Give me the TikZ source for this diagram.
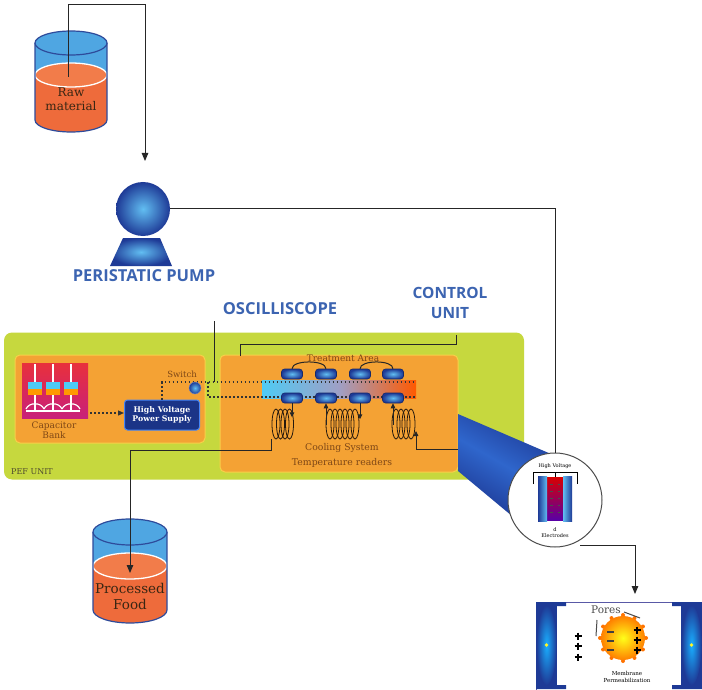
\documentclass[tikz,border=0pt]{standalone}
\usepackage{fontspec}
\setmainfont{DejaVu Serif}
\newfontfamily\headfont{Open Sans}
\usetikzlibrary{arrows.meta,calc}

\definecolor{tankblue}{HTML}{4FA6E2}
\definecolor{tankedge}{HTML}{2E4B9B}
\definecolor{liquid}{HTML}{EE6B3B}
\definecolor{liquidtop}{HTML}{F27C4A}
\definecolor{pefgreen}{HTML}{C6D83E}
\definecolor{boxorange}{HTML}{F4A234}
\definecolor{boxrim}{HTML}{F8D048}
\definecolor{labelblue}{HTML}{3C64B1}
\definecolor{deepblue}{HTML}{1E3A96}
\definecolor{lightblue}{HTML}{62BEF2}
\definecolor{conemid}{HTML}{2F66CC}
\definecolor{textbrown}{HTML}{7E4716}
\definecolor{capred}{HTML}{E8303C}
\definecolor{capmag}{HTML}{C8207A}

% tank: x, top y, liquid surface y, bottom y, x radius, y radius
\newcommand\drawtank[6]{%
  \fill[tankblue] (#1-#5,#2) -- (#1-#5,#3) -- (#1+#5,#3) -- (#1+#5,#2) -- cycle;
  \fill[liquid] (#1-#5,#3) -- (#1-#5,#4)
     arc[start angle=180,end angle=360,x radius=#5pt,y radius=#6pt] -- (#1+#5,#3) -- cycle;
  \filldraw[fill=liquidtop,draw=white,line width=1.3pt] (#1,#3) ellipse[x radius=#5pt,y radius=#6pt];
  \draw[tankedge,line width=1.2pt] (#1-#5,#2) -- (#1-#5,#4)
     arc[start angle=180,end angle=360,x radius=#5pt,y radius=#6pt] -- (#1+#5,#2);
  \filldraw[fill=tankblue,draw=tankedge,line width=1.2pt] (#1,#2) ellipse[x radius=#5pt,y radius=#6pt];
}
% coil: first loop x, number of loops, spacing
\newcommand\drawcoil[3]{%
  \foreach \k in {1,...,#2}
    \draw[coilline] ({#1+(\k-1)*#3},424) ellipse[x radius=4pt,y radius=15pt];
}
% bold plus sign
\newcommand\plusmark[2]{%
  \draw[line width=1.8pt] (#1-3.5,#2) -- (#1+3.5,#2) (#1,#2-3.5) -- (#1,#2+3.5);
}

\begin{document}
\begin{tikzpicture}[x=1pt,y=-1pt,
  wire/.style={draw=black!85,line width=1pt},
  arrowwire/.style={wire,-{Triangle[length=8pt,width=6.5pt]}},
  dotwire/.style={draw=black!80,line width=1.2pt,dash pattern=on 1.6pt off 2.4pt},
  smallarrow/.style={draw=black!85,line width=0.9pt,-{Triangle[length=5pt,width=4.5pt]}},
  smallarrowrev/.style={draw=black!85,line width=0.9pt,{Triangle[length=5pt,width=4.5pt]}-},
  coilline/.style={draw=black!80!brown,line width=0.8pt},
  headlabel/.style={font=\headfont\bfseries\fontsize{16.5}{18}\selectfont,text=labelblue,align=center,inner sep=0},
  orangebox/.style={fill=boxorange,draw=boxrim,line width=1pt,rounded corners=5pt,inner sep=0},
  electrode/.style={minimum width=21pt,minimum height=10pt,rounded corners=3pt,inner sep=0,
    inner color=lightblue,outer color=deepblue,draw=deepblue!70!black,line width=0.6pt},
  smalltext/.style={text=textbrown,inner sep=0,align=center}]

\useasboundingbox (0,0) rectangle (702,690);
\fill[white] (0,0) rectangle (702,690);

% ---------- PEF unit ----------
\node[fill=pefgreen,rounded corners=8pt,minimum width=520pt,minimum height=147pt,inner sep=0] (pef) at (264,406) {};
\node[anchor=west,inner sep=0,text=black!60!olive,font=\fontsize{8}{9}\selectfont] (peflabel) at (11,472) {PEF UNIT};

\node[orangebox,minimum width=190pt,minimum height=88pt] (supply) at (110,399) {};
\node[orangebox,minimum width=238pt,minimum height=117pt] (tarea) at (339,413.5) {};

% capacitor bank
\node[minimum width=66pt,minimum height=55pt,inner sep=0,top color=capred,bottom color=capmag] (capbank) at (55,390.5) {};
\foreach \cx in {35,53,71}{
  \draw[white,line width=1.2pt] (\cx,364) -- (\cx,382) (\cx,395) -- (\cx,411);
  \fill[lightblue!80!cyan] (\cx-7,382) rectangle (\cx+7,389);
  \fill[orange!80!yellow] (\cx-7,389) rectangle (\cx+7,395);
  \draw[white,line width=1.2pt] (\cx-9,409) .. controls (\cx-6,402) and (\cx+6,402) .. (\cx+9,409);
}
\draw[white,line width=1.2pt] (26,411) -- (80,411);
\node[smalltext,font=\fontsize{9}{10.5}\selectfont] (caplabel) at (54,430) {Capacitor\\Bank};

% high voltage supply
\node[fill=deepblue!90!black,draw=lightblue!70!blue,line width=1pt,rounded corners=3pt,
      minimum width=75pt,minimum height=30pt,inner sep=0,text=white,align=center,
      font=\bfseries\fontsize{7.8}{9.5}\selectfont] (hv) at (162,415) {High Voltage\\Power Supply};
\coordinate (capout) at (90,413);
\draw[dotwire,-{Triangle[length=6pt,width=5pt]}] (capout) -- (hv.west |- capout);

% switch
\node[smalltext,font=\fontsize{8.5}{9}\selectfont] (switchlabel) at (182,374) {Switch};

% treatment chamber
\shade[left color=lightblue!80!cyan,right color=orange!70!red,middle color=blue!25!gray!60]
  (262,380) rectangle (416,398);
\coordinate (busA) at (416,382);
\coordinate (busB) at (416,397);
\coordinate (swtap) at (208,382);
\draw[dotwire] (hv.north) |- (busA);
\draw[dotwire] (swtap) |- (busB);
\node[circle,minimum size=12pt,inner sep=0,inner color=lightblue,outer color=deepblue,draw=deepblue!60] (switch) at (195,388) {};

\node[smalltext,font=\fontsize{9}{9}\selectfont] (tlabel) at (343,358.5) {Treatment Area};
\foreach \i/\ex in {1/292,2/326,3/360,4/393}{
  \node[electrode] (et\i) at (\ex,374) {};
  \node[electrode] (eb\i) at (\ex,398) {};
}
\draw[wire] (et1.north) .. controls +(0,-9) and +(0,-9) .. (et2.north);
\draw[wire] (et3.north) .. controls +(0,-9) and +(0,-9) .. (et4.north);

% cooling coils
\drawcoil{276}{4}{4.5}
\drawcoil{330}{6}{5}
\drawcoil{396}{4}{5}
\draw[smallarrow] (eb1.south) -- ++(0,14);
\draw[smallarrowrev] (eb2.south) -- ++(0,22);
\draw[smallarrow] (eb3.south) -- ++(0,16);
\draw[smallarrowrev] (eb4.south) -- ++(0,22);
\node[smalltext,font=\fontsize{9.3}{15}\selectfont] (coollabel) at (342,455.5) {Cooling System\\Temperature readers};

% ---------- zoomed electrode view ----------
\node[circle,minimum size=94pt,inner sep=0] (lens) at (555,500) {};
\shade[top color=deepblue,bottom color=deepblue,middle color=conemid,shading angle=-30]
  (458,414) -- (551,454) -- (512,516) -- (458,471) -- cycle;
\node[circle,minimum size=94pt,inner sep=0,fill=white,draw=black!70,line width=1pt] at (lens) {};
\node[inner sep=0,font=\fontsize{5}{5}\selectfont] (hvtag) at (555,466) {High Voltage};
\draw[line width=0.7pt] (533,484) -- (533,472) -- (577,472) -- (577,484) (555,472) -- (555,478);
\shade[top color=red!85!black,middle color=orange,bottom color=violet!70!blue] (547,477) rectangle (563,520);
\shade[left color=deepblue,right color=lightblue] (538,476) rectangle (547,521);
\shade[left color=lightblue,right color=deepblue] (563,476) rectangle (572,521);
\foreach \yy in {484,491,...,515}{
  \draw[black!70,line width=0.6pt] (550,\yy) -- (552.5,\yy) (557.5,\yy) -- (560,\yy);
}
\node[inner sep=0,font=\fontsize{5}{6}\selectfont,align=center] (eltag) at (555,533) {d\\Electrodes};

% ---------- tanks and pump ----------
\drawtank{71}{43}{75}{120}{36}{12}
\node[inner sep=0,align=center,text=black!70!brown,font=\fontsize{12}{14}\selectfont] (rawlabel) at (71,99) {Raw\\material};
\drawtank{130}{532}{566}{610}{37}{13}
\node[inner sep=0,align=center,text=black!70!brown,font=\fontsize{13.5}{16}\selectfont] (foodlabel) at (130,596) {Processed\\Food};

\shade[inner color=lightblue,outer color=deepblue] (123,238) -- (160,238) -- (172,266) -- (110,266) -- cycle;
\node[circle,minimum size=54pt,inner sep=0,inner color=lightblue,outer color=deepblue] (pump) at (143,209) {};
\node[headlabel] (pumplabel) at (144,276) {PERISTATIC PUMP};

% ---------- labels ----------
\node[headlabel] (osclabel) at (280,309) {OSCILLISCOPE};
\node[headlabel,font=\headfont\bfseries\fontsize{15.5}{20}\selectfont] (culabel) at (450,303) {CONTROL\\UNIT};

% ---------- connections ----------
\coordinate (rawin) at (68,77);
\coordinate (rawup) at (68,5);
\coordinate (pumpin) at (145,161);
\draw[arrowwire] (rawin) -- (rawup) -| (pumpin);
\draw[wire] (pump.east) -| (lens.north);

\coordinate (oscdrop) at (214,321);
\draw[wire] (oscdrop) -- (oscdrop |- busA);

\coordinate (cutap) at (456,335);
\coordinate (cuin) at (240,356);
\draw[wire] (cutap) -- ++(0,9) -| (cuin);

\coordinate (coil1L) at (271,439);
\coordinate (foodin) at (130,573);
\draw[arrowwire] (coil1L) -- ++(0,11) -| (foodin);

\coordinate (coil3R) at (416,431);
\coordinate (coilfeed) at (458,449);
\draw[smallarrow] (coilfeed) -| (coil3R);

\coordinate (lensout) at (580,545);
\coordinate (cellin) at (635,594);

% ---------- membrane permeabilization ----------
\node[draw=blue!30!gray,line width=1pt,fill=white,minimum width=166pt,minimum height=88pt,inner sep=0] (mbox) at (619,646) {};
\draw[arrowwire] (lensout) -| (cellin);
\foreach \ex in {536,681}{
  \fill[deepblue] (\ex,602) rectangle (\ex+21,689);
  \shade[inner color=blue!35!cyan!90,outer color=deepblue] (\ex+10.5,645) ellipse[x radius=10pt,y radius=40pt];
  \fill[yellow!85] (\ex+10.5,645) circle[radius=1.8pt];
}
\fill[deepblue] (536,602) rectangle (566,606) (536,685) rectangle (566,689);
\fill[deepblue] (672,602) rectangle (702,606) (672,685) rectangle (702,689);

\foreach \a in {0,30,...,330}
  \fill[orange!90!red] ($(623,638)+(\a:23pt)$) circle[radius=2pt];
\shade[inner color=yellow!90!white,outer color=orange] (623,638) circle[radius=22pt];
\foreach \yy in {632,641,650}
  \fill[black!75] (607,\yy-1) rectangle (614,\yy+1);
\foreach \yy in {630,640,650} {\plusmark{637}{\yy}}
\foreach \yy in {636,646,657} {\plusmark{578}{\yy}}
\node[inner sep=0,font=\fontsize{10.5}{12}\selectfont,text=black!70] (poreslabel) at (606,610) {Pores};
\draw[line width=1pt,black!70] (624,612) -- (640,618);
\draw[line width=1pt,black!70] (597,620) -- (596,636);
\node[inner sep=0,align=center,font=\fontsize{5.5}{7}\selectfont] (memlabel) at (627,677) {Membrane\\Permeabilization};

\end{tikzpicture}
\end{document}
